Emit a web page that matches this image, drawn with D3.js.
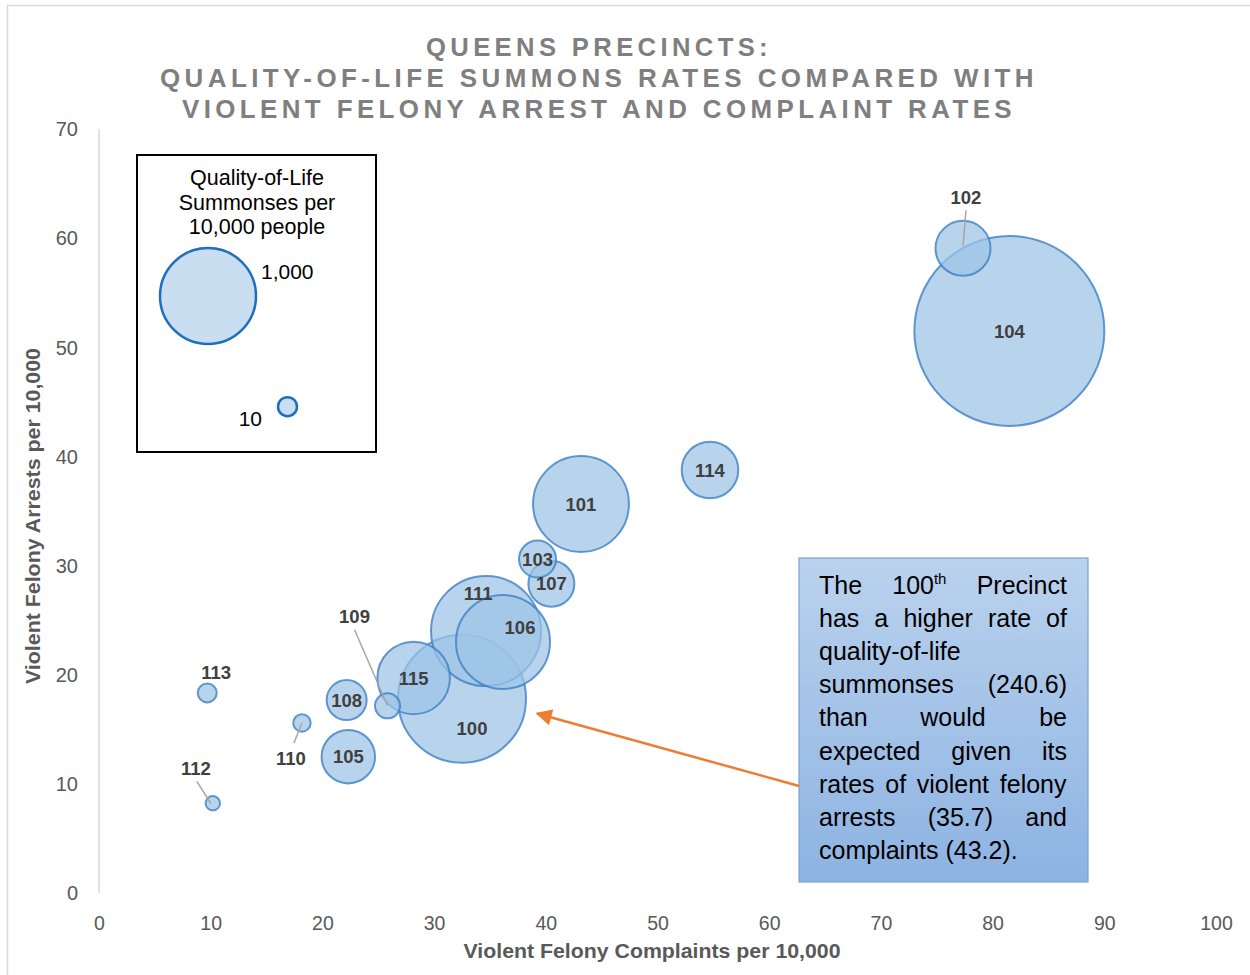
<!DOCTYPE html>
<html>
<head>
<meta charset="utf-8">
<script src="https://cdn.jsdelivr.net/npm/d3@7"></script>
<style>
  html, body { margin: 0; padding: 0; background: #fff; }
  svg { display: block; font-family: "Liberation Sans", Arial, sans-serif; }
</style>
</head>
<body>
<svg id="chart" width="1250" height="975"></svg>
<script>
// ---------------- DATA ----------------
const precincts   = ["100","101","102","103","104","105","106","107","108","109","110","111","112","113","114","115"];
const complaints  = [32.5, 43.15, 77.35, 39.26, 81.5, 22.32, 36.17, 40.5, 22.17, 25.83, 18.17, 34.65, 10.19, 9.69, 54.7, 28.17];
const arrests     = [17.8, 35.64, 59.07, 30.6, 51.5, 12.49, 23.0, 28.34, 17.68, 17.15, 15.58, 24.0, 8.22, 18.33, 38.76, 19.7];
const summonses   = [240.6, 135, 44.4, 20.1, 530, 41.9, 129.8, 31, 23.5, 9.2, 4.45, 177.7, 3.05, 5.3, 47, 77.4];
const xTicks = [0,10,20,30,40,50,60,70,80,90,100];
const yTicks = [0,10,20,30,40,50,60,70];
const titleLines = ["QUEENS PRECINCTS:", "QUALITY-OF-LIFE SUMMONS RATES COMPARED WITH", "VIOLENT FELONY ARREST AND COMPLAINT RATES"];
const legendTitle = ["Quality-of-Life", "Summonses per", "10,000 people"];
const legendValues = [1000, 10];
const legendLabels = ["1,000", "10"];
const noteLines = [
  ["The", "100|th", "Precinct"],
  ["has", "a", "higher", "rate", "of"],
  ["quality-of-life"],
  ["summonses", "(240.6)"],
  ["than", "would", "be"],
  ["expected", "given", "its"],
  ["rates", "of", "violent", "felony"],
  ["arrests", "(35.7)", "and"],
  ["complaints", "(43.2)."]
];
const noteJustify = [true, true, false, true, true, true, true, true, false];

// ---------------- LAYOUT (pixel offsets for labels, leader lines) ----------------
const labelOffset = {
  "100": [10, 30], "102": [3, -51], "106": [17, -15], "109": [-33, -89],
  "110": [-11, 35], "111": [-8, -38], "112": [-17, -35], "113": [9, -21]
};
const leaders = {
  "102": [[3, -38], [0, -2]],
  "109": [[-33, -76], [0, 0]],
  "110": [[-8, 20], [0, 0]],
  "112": [[-16, -22], [-2, 0]]
};

const svg = d3.select("#chart");

// chart border
svg.append("rect").attr("x", 7.5).attr("y", 5.5).attr("width", 1300).attr("height", 1000)
  .attr("fill", "#fff").attr("stroke", "#d9d9d9").attr("stroke-width", 1.5);

const x = d3.scaleLinear().domain([0, 100]).range([99, 1216]);
const y = d3.scaleLinear().domain([0, 70]).range([893, 129]);
const r = d3.scaleSqrt().domain([0, 240.6]).range([0, 64]);

// title
svg.append("g").selectAll("text").data(titleLines).join("text")
  .attr("x", 599).attr("y", (d, i) => 56 + i * 31)
  .attr("text-anchor", "middle")
  .attr("font-size", 26.5).attr("font-weight", "bold").attr("fill", "#7f7f7f")
  .attr("letter-spacing", 4.5)
  .attr("textLength", (d, i) => [346, 878, 834][i])
  .attr("lengthAdjust", "spacingAndGlyphs")
  .text(d => d);

// y axis line
svg.append("line").attr("x1", x(0)).attr("x2", x(0)).attr("y1", y(70)).attr("y2", y(0))
  .attr("stroke", "#d9d9d9").attr("stroke-width", 1.5);

// y tick labels
const yAxis = d3.axisLeft(y).tickValues(yTicks).tickSize(0).tickPadding(0);
const gy = svg.append("g").attr("transform", "translate(78,0)").call(yAxis);
gy.select(".domain").remove();
gy.selectAll("text").attr("font-size", 20).attr("fill", "#595959")
  .attr("font-family", "'Liberation Sans', Arial, sans-serif").attr("dy", "0.34em");

// x tick labels
const xAxis = d3.axisBottom(x).tickValues(xTicks).tickSize(0).tickPadding(0);
const gx = svg.append("g").attr("transform", "translate(0,916)").call(xAxis);
gx.select(".domain").remove();
gx.selectAll("text").attr("font-size", 19.5).attr("fill", "#595959")
  .attr("font-family", "'Liberation Sans', Arial, sans-serif").attr("dy", "0.71em");

// axis titles
svg.append("text").attr("x", 652).attr("y", 958).attr("text-anchor", "middle")
  .attr("font-size", 21).attr("font-weight", "bold").attr("fill", "#595959")
  .attr("textLength", 377).attr("lengthAdjust", "spacingAndGlyphs")
  .text("Violent Felony Complaints per 10,000");
svg.append("text").attr("transform", "translate(40,516) rotate(-90)").attr("text-anchor", "middle")
  .attr("font-size", 21).attr("font-weight", "bold").attr("fill", "#595959")
  .attr("textLength", 336).attr("lengthAdjust", "spacingAndGlyphs")
  .text("Violent Felony Arrests per 10,000");

// bubbles
const data = precincts.map((p, i) => ({ p, cx: complaints[i], cy: arrests[i], v: summonses[i] }));
const sorted = data.slice().sort((a, b) => b.v - a.v);
svg.append("g").selectAll("circle").data(sorted).join("circle")
  .attr("cx", d => x(d.cx)).attr("cy", d => y(d.cy)).attr("r", d => r(d.v))
  .attr("fill", "#9dc3e6").attr("fill-opacity", 0.72)
  .attr("stroke", "#3d7fc4").attr("stroke-opacity", 0.8).attr("stroke-width", 2);

// leader lines
svg.append("g").selectAll("line").data(data.filter(d => leaders[d.p])).join("line")
  .attr("x1", d => x(d.cx) + leaders[d.p][0][0]).attr("y1", d => y(d.cy) + leaders[d.p][0][1])
  .attr("x2", d => x(d.cx) + leaders[d.p][1][0]).attr("y2", d => y(d.cy) + leaders[d.p][1][1])
  .attr("stroke", "#a6a6a6").attr("stroke-width", 1.5);

// labels
svg.append("g").selectAll("text").data(data).join("text")
  .attr("x", d => x(d.cx) + (labelOffset[d.p] ? labelOffset[d.p][0] : 0))
  .attr("y", d => y(d.cy) + (labelOffset[d.p] ? labelOffset[d.p][1] : 0))
  .attr("dy", "0.36em").attr("text-anchor", "middle")
  .attr("font-size", 18.5).attr("font-weight", "bold").attr("fill", "#404040")
  .text(d => d.p);

// legend
const lg = svg.append("g");
lg.append("rect").attr("x", 137).attr("y", 155).attr("width", 239).attr("height", 297)
  .attr("fill", "#fff").attr("stroke", "#000").attr("stroke-width", 2);
lg.selectAll("text.lt").data(legendTitle).join("text").attr("class", "lt")
  .attr("x", 257).attr("y", (d, i) => 185 + i * 24.5).attr("text-anchor", "middle")
  .attr("font-size", 21.5).attr("fill", "#000").text(d => d);
const legendR = d3.scaleSqrt().domain([0, 1000]).range([0, 48]);
const legendPos = [[208, 296], [287.5, 406.7]];
lg.selectAll("circle").data(legendValues).join("circle")
  .attr("cx", (d, i) => legendPos[i][0]).attr("cy", (d, i) => legendPos[i][1])
  .attr("r", (d, i) => Math.max(legendR(d), 9.5))
  .attr("fill", "#cadef2").attr("stroke", "#1f6fbf").attr("stroke-width", 2.5);
lg.append("text").attr("x", 261).attr("y", 279).attr("font-size", 21).attr("fill", "#000").text(legendLabels[0]);
lg.append("text").attr("x", 262).attr("y", 426).attr("text-anchor", "end").attr("font-size", 21).attr("fill", "#000").text(legendLabels[1]);

// annotation box
const defs = svg.append("defs");
const grad = defs.append("linearGradient").attr("id", "noteGrad").attr("x1", 0).attr("y1", 0).attr("x2", 0).attr("y2", 1);
grad.append("stop").attr("offset", "0%").attr("stop-color", "#bad2ed");
grad.append("stop").attr("offset", "100%").attr("stop-color", "#8db3e2");
svg.append("rect").attr("x", 799).attr("y", 558).attr("width", 289).attr("height", 324)
  .attr("fill", "url(#noteGrad)").attr("stroke", "#76a3d8").attr("stroke-width", 1.2);

const noteG = svg.append("g");
const left = 819, right = 1067, fs = 25;
noteLines.forEach((words, li) => {
  const by = 593.5 + li * 33.2;
  const nodes = words.map(w => {
    const t = noteG.append("text").attr("y", by).attr("font-size", fs).attr("fill", "#000");
    if (w.includes("|")) {
      const [a, b] = w.split("|");
      t.append("tspan").text(a);
      t.append("tspan").attr("font-size", 15).attr("dy", -10).text(b);
    } else {
      t.text(w);
    }
    return t;
  });
  const widths = nodes.map(n => n.node().getBBox().width);
  const total = d3.sum(widths);
  let gap;
  if (noteJustify[li] && words.length > 1) gap = (right - left - total) / (words.length - 1);
  else gap = fs * 0.278;
  let cx = left;
  nodes.forEach((n, i) => { n.attr("x", cx); cx += widths[i] + gap; });
});

// arrow
defs.append("marker").attr("id", "arrowHead").attr("viewBox", "0 0 10 10")
  .attr("refX", 9).attr("refY", 5).attr("markerWidth", 7).attr("markerHeight", 6.5)
  .attr("orient", "auto").attr("markerUnits", "strokeWidth")
  .append("path").attr("d", "M0,0 L10,5 L0,10 z").attr("fill", "#ed7d31");
svg.append("line").attr("x1", 799).attr("y1", 786).attr("x2", 537).attr("y2", 713.5)
  .attr("stroke", "#ed7d31").attr("stroke-width", 2.5).attr("marker-end", "url(#arrowHead)");
</script>
</body>
</html>
